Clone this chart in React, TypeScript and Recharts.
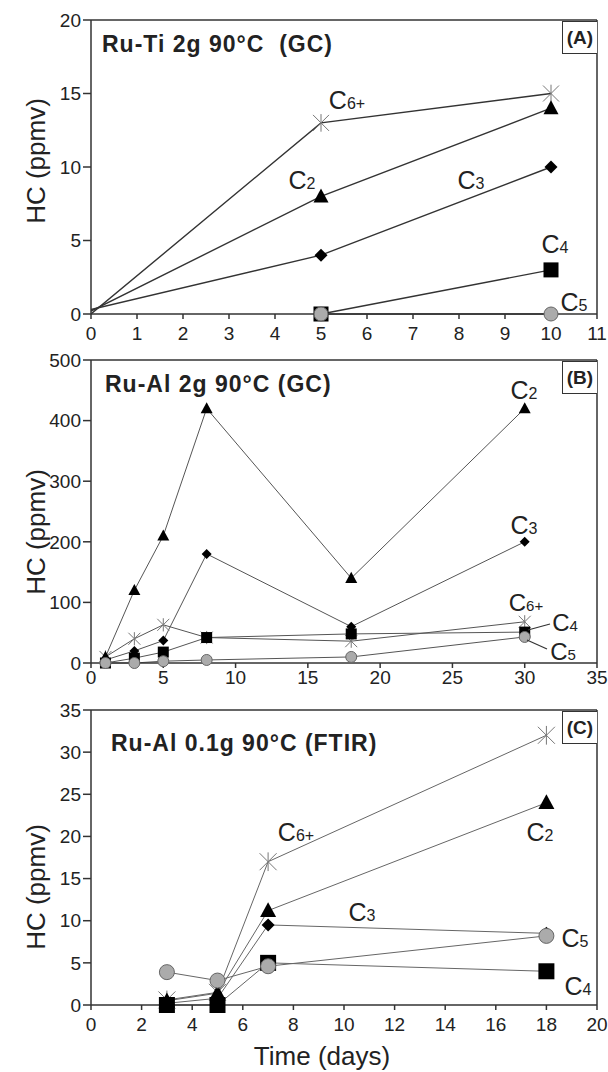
import React from 'react';
import { LineChart, Line, XAxis, YAxis, ReferenceLine } from 'recharts';

// Panel A - Ru-Ti 2g 90°C (GC)
const aC6 = [{ x: 0, y: 0 }, { x: 5, y: 13 }, { x: 10, y: 15 }];
const aC2 = [{ x: 0, y: 0.2 }, { x: 5, y: 8 }, { x: 10, y: 14 }];
const aC3 = [{ x: 0, y: 0.3 }, { x: 5, y: 4 }, { x: 10, y: 10 }];
const aC4 = [{ x: 5, y: 0 }, { x: 10, y: 3 }];
const aC5 = [{ x: 5, y: 0 }, { x: 10, y: 0 }];
const aXTicks = [0, 1, 2, 3, 4, 5, 6, 7, 8, 9, 10, 11];
const aYTicks = [0, 5, 10, 15, 20];

// Panel B - Ru-Al 2g 90°C (GC)
const bC6 = [{ x: 1, y: 10 }, { x: 3, y: 40 }, { x: 5, y: 63 }, { x: 8, y: 42 }, { x: 18, y: 36 }, { x: 30, y: 68 }];
const bC2 = [{ x: 1, y: 10 }, { x: 3, y: 120 }, { x: 5, y: 210 }, { x: 8, y: 420 }, { x: 18, y: 140 }, { x: 30, y: 420 }];
const bC3 = [{ x: 1, y: 5 }, { x: 3, y: 20 }, { x: 5, y: 37 }, { x: 8, y: 180 }, { x: 18, y: 60 }, { x: 30, y: 200 }];
const bC4 = [{ x: 1, y: 0 }, { x: 3, y: 8 }, { x: 5, y: 18 }, { x: 8, y: 42 }, { x: 18, y: 48 }, { x: 30, y: 51 }];
const bC5 = [{ x: 1, y: 0 }, { x: 3, y: 0 }, { x: 5, y: 3 }, { x: 8, y: 5 }, { x: 18, y: 10 }, { x: 30, y: 43 }];
const bXTicks = [0, 5, 10, 15, 20, 25, 30, 35];
const bYTicks = [0, 100, 200, 300, 400, 500];

// Panel C - Ru-Al 0.1g 90°C (FTIR)
const cC6 = [{ x: 3, y: 0.6 }, { x: 5, y: 1.5 }, { x: 7, y: 17 }, { x: 18, y: 32 }];
const cC2 = [{ x: 3, y: 0.5 }, { x: 5, y: 1.4 }, { x: 7, y: 11.2 }, { x: 18, y: 24 }];
const cC3 = [{ x: 3, y: 0.2 }, { x: 5, y: 0.8 }, { x: 7, y: 9.5 }, { x: 18, y: 8.5 }];
const cC4 = [{ x: 3, y: 0 }, { x: 5, y: 0 }, { x: 7, y: 5 }, { x: 18, y: 4 }];
const cC5 = [{ x: 3, y: 3.9 }, { x: 5, y: 2.9 }, { x: 7, y: 4.6 }, { x: 18, y: 8.2 }];
const cXTicks = [0, 2, 4, 6, 8, 10, 12, 14, 16, 18, 20];
const cYTicks = [0, 5, 10, 15, 20, 25, 30, 35];

const FONT = '"Liberation Sans", Arial, sans-serif';

type Shape = 'star' | 'triangle' | 'diamond' | 'square' | 'circle';

function Marker({ cx, cy, shape, size, stroke }: { cx: number; cy: number; shape: Shape; size: number; stroke: string }) {
  const h = size / 2;
  if (shape === 'triangle') {
    return <polygon points={`${cx},${cy - h * 1.05} ${cx - h},${cy + h * 0.8} ${cx + h},${cy + h * 0.8}`} fill="#000" />;
  }
  if (shape === 'diamond') {
    return <polygon points={`${cx},${cy - h} ${cx + h},${cy} ${cx},${cy + h} ${cx - h},${cy}`} fill="#000" />;
  }
  if (shape === 'square') {
    return <rect x={cx - h} y={cy - h} width={size} height={size} fill="#000" />;
  }
  if (shape === 'circle') {
    return <circle cx={cx} cy={cy} r={h} fill="#ababab" stroke="#666" strokeWidth={1} />;
  }
  return (
    <g stroke={stroke} strokeWidth={1}>
      <line x1={cx - h} y1={cy - h} x2={cx + h} y2={cy + h} />
      <line x1={cx - h} y1={cy + h} x2={cx + h} y2={cy - h} />
      <line x1={cx} y1={cy - h * 1.1} x2={cx} y2={cy + h * 1.1} />
    </g>
  );
}

const makeDot = (shape: Shape, size: number, stroke = '#777') => (props: any) => {
  const { cx, cy, index, payload } = props;
  if (cx == null || cy == null || (payload && payload.x === 0)) return <g key={`d-${index}`} />;
  return (
    <g key={`d-${index}`}>
      <Marker cx={cx} cy={cy} shape={shape} size={size} stroke={stroke} />
    </g>
  );
};

const tickStyle = { fontSize: 19, fill: '#222', fontFamily: FONT };

const CLabel = ({ sub, left, top, size = 25 }: { sub: string; left: number; top: number; size?: number }) => (
  <div
    style={{
      position: 'absolute',
      left,
      top,
      transform: 'translate(-50%, -50%)',
      fontFamily: FONT,
      fontSize: size,
      color: '#222',
      whiteSpace: 'nowrap',
      lineHeight: 0.8,
    }}
  >
    C<span style={{ fontSize: Math.round(size * 0.64) }}>{sub}</span>
  </div>
);

const Title = ({ text, left, top }: { text: string; left: number; top: number }) => (
  <div
    style={{
      position: 'absolute',
      left,
      top,
      transform: 'translateY(-50%)',
      fontFamily: FONT,
      fontWeight: 'bold',
      fontSize: 23,
      letterSpacing: 1,
      color: '#222',
      whiteSpace: 'pre',
      lineHeight: 1,
    }}
  >
    {text}
  </div>
);

const Tag = ({ text, top }: { text: string; top: number }) => (
  <div
    style={{
      position: 'absolute',
      left: 562,
      top,
      width: 34,
      height: 31,
      border: '1px solid #333',
      borderRight: 'none',
      background: '#fff',
      fontFamily: FONT,
      fontWeight: 'bold',
      fontSize: 19,
      color: '#222',
      display: 'flex',
      alignItems: 'center',
      justifyContent: 'center',
    }}
  >
    {text}
  </div>
);

const YLabel = ({ top }: { top: number }) => (
  <div
    style={{
      position: 'absolute',
      left: 36,
      top,
      transform: 'translate(-50%, -50%) rotate(-90deg)',
      fontFamily: FONT,
      fontSize: 26,
      color: '#222',
      whiteSpace: 'nowrap',
    }}
  >
    HC (ppmv)
  </div>
);

type Panel = {
  height: number;
  xMax: number;
  yMax: number;
  xTicks: number[];
  yTicks: number[];
  xHeight: number;
  tickMargin: number;
  lineColor: string;
  lineWidth: number;
  series: { data: { x: number; y: number }[]; shape: Shape; size: number; name: string }[];
};

function PanelChart({ p }: { p: Panel }) {
  return (
    <LineChart width={608} height={p.height} margin={{ top: 20, right: 11, bottom: 0, left: 0 }}>
      <XAxis
        type="number"
        dataKey="x"
        domain={[0, p.xMax]}
        ticks={p.xTicks}
        allowDataOverflow
        interval={0}
        height={p.xHeight}
        tickSize={5}
        tickMargin={p.tickMargin}
        stroke="#333"
        strokeWidth={1.5}
        tick={tickStyle}
      />
      <YAxis
        type="number"
        dataKey="y"
        domain={[0, p.yMax]}
        ticks={p.yTicks}
        interval={0}
        width={91}
        tickSize={8}
        tickMargin={2}
        stroke="#333"
        strokeWidth={1.5}
        tick={tickStyle}
      />
      <ReferenceLine y={p.yMax} stroke="#333" strokeWidth={1.5} />
      <ReferenceLine x={p.xMax} stroke="#333" strokeWidth={1.5} />
      {p.series.map((s) => (
        <Line
          key={s.name}
          data={s.data}
          dataKey="y"
          type="linear"
          stroke={p.lineColor}
          strokeWidth={p.lineWidth}
          dot={makeDot(s.shape, s.size)}
          activeDot={false}
          isAnimationActive={false}
        />
      ))}
    </LineChart>
  );
}

const panelA: Panel = {
  height: 348, xMax: 11, yMax: 20, xTicks: aXTicks, yTicks: aYTicks, xHeight: 34, tickMargin: 8,
  lineColor: '#333', lineWidth: 1.4,
  series: [
    { name: 'C6+', data: aC6, shape: 'star', size: 16 },
    { name: 'C2', data: aC2, shape: 'triangle', size: 15 },
    { name: 'C3', data: aC3, shape: 'diamond', size: 13 },
    { name: 'C4', data: aC4, shape: 'square', size: 15 },
    { name: 'C5', data: aC5, shape: 'circle', size: 14 },
  ],
};

const panelB: Panel = {
  height: 357, xMax: 35, yMax: 500, xTicks: bXTicks, yTicks: bYTicks, xHeight: 34, tickMargin: 3,
  lineColor: '#555', lineWidth: 1,
  series: [
    { name: 'C6+', data: bC6, shape: 'star', size: 12 },
    { name: 'C2', data: bC2, shape: 'triangle', size: 12 },
    { name: 'C3', data: bC3, shape: 'diamond', size: 10 },
    { name: 'C4', data: bC4, shape: 'square', size: 11 },
    { name: 'C5', data: bC5, shape: 'circle', size: 11 },
  ],
};

const panelC: Panel = {
  height: 382, xMax: 20, yMax: 35, xTicks: cXTicks, yTicks: cYTicks, xHeight: 67, tickMargin: 8,
  lineColor: '#666', lineWidth: 1,
  series: [
    { name: 'C6+', data: cC6, shape: 'star', size: 17 },
    { name: 'C2', data: cC2, shape: 'triangle', size: 16 },
    { name: 'C3', data: cC3, shape: 'diamond', size: 13 },
    { name: 'C4', data: cC4, shape: 'square', size: 16 },
    { name: 'C5', data: cC5, shape: 'circle', size: 15 },
  ],
};

export default function App() {
  return (
    <div style={{ position: 'absolute', left: 0, top: 0, width: 608, height: 1072, background: '#fff', overflow: 'hidden' }}>
      <div style={{ position: 'absolute', left: 0, top: 0 }}>
        <PanelChart p={panelA} />
      </div>
      <div style={{ position: 'absolute', left: 0, top: 340 }}>
        <PanelChart p={panelB} />
      </div>
      <div style={{ position: 'absolute', left: 0, top: 690 }}>
        <PanelChart p={panelC} />
      </div>

      {/* panel A text */}
      <Title text={'Ru-Ti 2g 90°C  (GC)'} left={102} top={44} />
      <Tag text="(A)" top={21} />
      <YLabel top={161} />
      <CLabel sub="6+" left={347} top={100} />
      <CLabel sub="2" left={302} top={180} />
      <CLabel sub="3" left={471} top={180} />
      <CLabel sub="4" left={555} top={244} />
      <CLabel sub="5" left={574} top={302} />

      {/* panel B text */}
      <Title text={'Ru-Al 2g 90°C (GC)'} left={105} top={384} />
      <Tag text="(B)" top={361} />
      <YLabel top={532} />
      <CLabel sub="2" left={524} top={390} />
      <CLabel sub="3" left={524} top={525} />
      <CLabel sub="6+" left={526} top={603} size={24} />
      <CLabel sub="4" left={565} top={623} size={24} />
      <CLabel sub="5" left={563} top={652} size={24} />
      <svg style={{ position: 'absolute', left: 0, top: 0 }} width={608} height={1072}>
        <line x1={528} y1={630} x2={550} y2={624} stroke="#333" strokeWidth={1.2} />
        <line x1={527} y1={640} x2={547} y2={649} stroke="#333" strokeWidth={1.2} />
      </svg>

      {/* panel C text */}
      <Title text={'Ru-Al 0.1g 90°C (FTIR)'} left={111} top={743} />
      <Tag text="(C)" top={711} />
      <YLabel top={887} />
      <CLabel sub="6+" left={296} top={832} />
      <CLabel sub="2" left={540} top={832} />
      <CLabel sub="3" left={362} top={912} />
      <CLabel sub="5" left={575} top={938} />
      <CLabel sub="4" left={578} top={986} />
      <div
        style={{
          position: 'absolute',
          left: 322,
          top: 1056,
          transform: 'translate(-50%, -50%)',
          fontFamily: FONT,
          fontSize: 26,
          color: '#222',
          whiteSpace: 'nowrap',
        }}
      >
        Time (days)
      </div>
    </div>
  );
}
